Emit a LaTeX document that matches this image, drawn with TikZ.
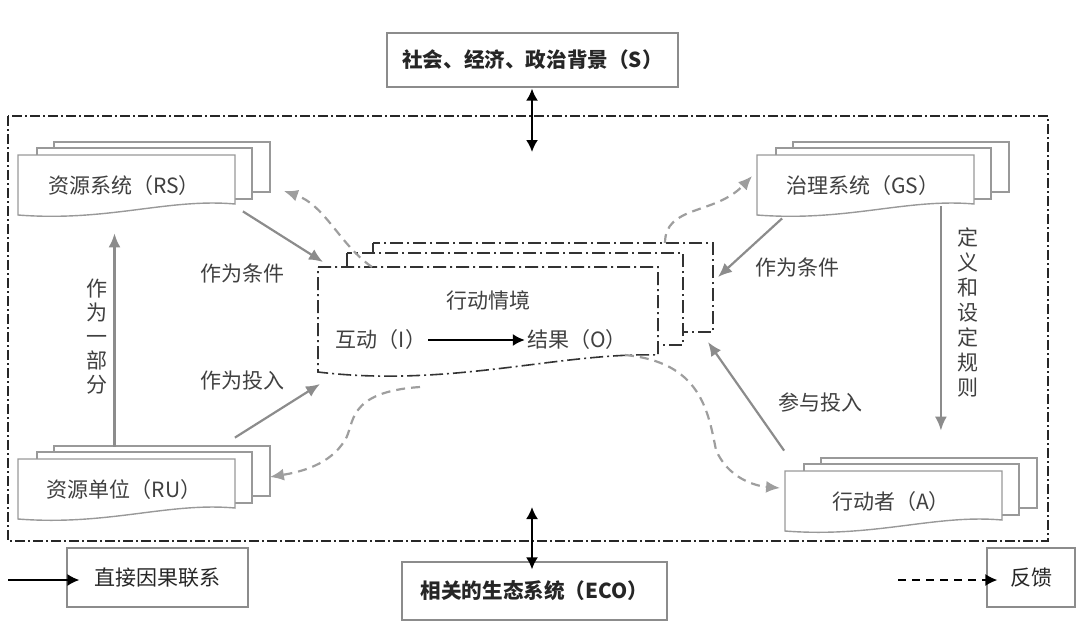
\documentclass[tikz,border=0pt]{standalone}
\usepackage{fontspec}
\usepackage{tikz}
\usetikzlibrary{arrows.meta}
\newfontfamily\cjk{Noto Sans CJK SC}

\newcommand{\docstack}[4]{%
        \begin{scope}[shift={(#2,#3)}]
        \draw[sheet] (36,-13) rectangle (252,37);
        \draw[sheet] (19,-7) rectangle (234,44);
        \draw[sheet] (0,0) -- (217,0) -- (217,49) .. controls (150,43) and (90,67) .. (0,60) -- cycle;
        \node(#1) [stacktext] at (106,31) {#4};
        \end{scope}}

\begin{document}
\begin{tikzpicture}[x=0.5pt, y=-0.5pt,
        sheet/.style={draw=black!40, line width=0.7pt, fill=white},
        lbl/.style={font=\cjk\fontsize{10.5}{12}\selectfont, text=black!75, inner sep=1pt},
        stacktext/.style={lbl, minimum width=108.5pt, minimum height=30pt, inner sep=0pt},
        vlbl/.style={lbl, align=center, text width=1.2em},
        plainbox/.style={draw=black!45, line width=0.6pt, font=\cjk\fontsize{10.5}{12}\selectfont, text=black!85},
        frame/.style={draw=black!80, line width=0.8pt, fill=white, dash pattern=on 6.5pt off 2pt on 1pt off 2pt},
        outer/.style={draw=black!85, line width=0.8pt, dash pattern=on 5pt off 1.5pt on 1pt off 1.5pt},
        cause/.style={draw=black!45, line width=1.1pt, -{Latex[length=7pt, width=6pt]}},
        fb/.style={cause, draw=black!38, dash pattern=on 4.5pt off 3pt},
        blk/.style={draw=black, line width=0.9pt, -{Latex[length=6pt, width=6pt]}},
        both/.style={draw=black, line width=1pt, {Latex[length=6pt, width=6pt]}-{Latex[length=6pt, width=6pt]}}]
        \useasboundingbox (0,0) rectangle (1080,638);

        \draw[outer] (8,116) rectangle (1048,541);

        \node(ctx) [plainbox, minimum width=145.5pt, minimum height=27pt, font=\cjk\bfseries\fontsize{10.3}{12}\selectfont] at (532.5,60) {社会、经济、政治背景（S）};
        \node(eco) [plainbox, minimum width=132.5pt, minimum height=29pt, font=\cjk\bfseries\fontsize{10.3}{12}\selectfont] at (534.5,591) {相关的生态系统（ECO）};
        \coordinate(ctx-in) at (532,152);
        \coordinate(eco-out) at (532,507);
        \draw[both] ([xshift=-0.25pt, yshift=-0.5pt]ctx.south) -- (ctx-in);
        \draw[both] (eco-out) -- ([xshift=-1.25pt, yshift=-4pt]eco.north);

        \docstack{rs}{18}{155}{资源系统（RS）}
        \docstack{gs}{757}{155}{治理系统（GS）}
        \docstack{ru}{18}{459}{资源单位（RU）}
        \docstack{ac}{785}{471}{行动者（A）}

        \draw[frame] (373,243) rectangle (713,332);
        \draw[frame] (347,253) rectangle (683,345);
        \draw[frame] (318,267) -- (658,267) -- (658,355) .. controls (560,352) and (450,388) .. (318,372) -- cycle;

        \node(sit) [lbl] at (488,300) {行动情境};
        \node(iact) [lbl] at (381,340) {互动（I）};
        \node(outc) [lbl] at (577,340) {结果（O）};
        \draw[blk] (iact) -- (outc);

        \coordinate(as-in1) at (323,262);
        \coordinate(as-in2) at (320,384);
        \coordinate(as-in3) at (718,277);
        \coordinate(as-in4) at (708,342);
        \coordinate(as-fb1) at (372,267);
        \coordinate(as-fb2) at (665,243);
        \coordinate(as-fb3) at (420,387);
        \coordinate(as-fb4) at (625,355);

        \draw[cause] ([xshift=5pt, yshift=2.5pt]rs.south east) -- (as-in1);
        \draw[cause] ([xshift=1pt, yshift=11pt]ru.north east) -- (as-in2);
        \draw[cause] ([xshift=-4.75pt, yshift=6.5pt]ru.north) -- ([xshift=-4.75pt, yshift=-8.5pt]rs.south);
        \draw[cause] ([xshift=14pt, yshift=-1pt]gs.south west) -- (as-in3);
        \draw[cause] ([xshift=-15.5pt, yshift=5pt]gs.south east) -- ([xshift=-29.5pt, yshift=20.5pt]ac.north east);
        \draw[cause] ([xshift=1pt, yshift=10.5pt]ac.north west) -- (as-in4);

        \draw[fb] (as-fb1) .. controls (340,245) and (325,205) .. ([xshift=25.5pt, yshift=-2.5pt]rs.east);
        \draw[fb] (as-fb2) .. controls (665,205) and (715,215) .. ([xshift=-1pt, yshift=5pt]gs.west);
        \draw[fb] (as-fb3) .. controls (345,392) and (355,425) .. (345,440) .. controls (330,465) and (300,472) .. ([xshift=18.5pt, yshift=6.5pt]ru.east);
        \draw[fb] (as-fb4) .. controls (700,362) and (708,410) .. (716,450) .. controls (728,478) and (755,486) .. ([xshift=-1pt, yshift=7pt]ac.west);

        \node(cond1) [lbl] at (242,273) {作为条件};
        \node(inp1) [lbl] at (242,381) {作为投入};
        \node(part) [vlbl] at (97,337) {作\\为\\一\\部\\分};
        \node(cond2) [lbl] at (797,267) {作为条件};
        \node(rule) [vlbl, font=\cjk\fontsize{10.5}{12.5}\selectfont] at (968,312) {定\\义\\和\\设\\定\\规\\则};
        \node(join) [lbl] at (820,402) {参与投入};

        \node(lgcause) [plainbox, minimum width=90.5pt, minimum height=29.5pt] at (157.5,577.5) {直接因果联系};
        \node(lgfb) [plainbox, minimum width=44pt, minimum height=29.5pt] at (1031,577.5) {反馈};
        \coordinate(lgc-start) at (8,580);
        \coordinate(lgf-start) at (898,580);
        \draw[blk] (lgc-start) -- ([xshift=6.5pt, yshift=-1.25pt]lgcause.west);
        \draw[blk, dash pattern=on 4pt off 3pt] (lgf-start) -- ([xshift=5.5pt, yshift=-1.25pt]lgfb.west);
\end{tikzpicture}
\end{document}
